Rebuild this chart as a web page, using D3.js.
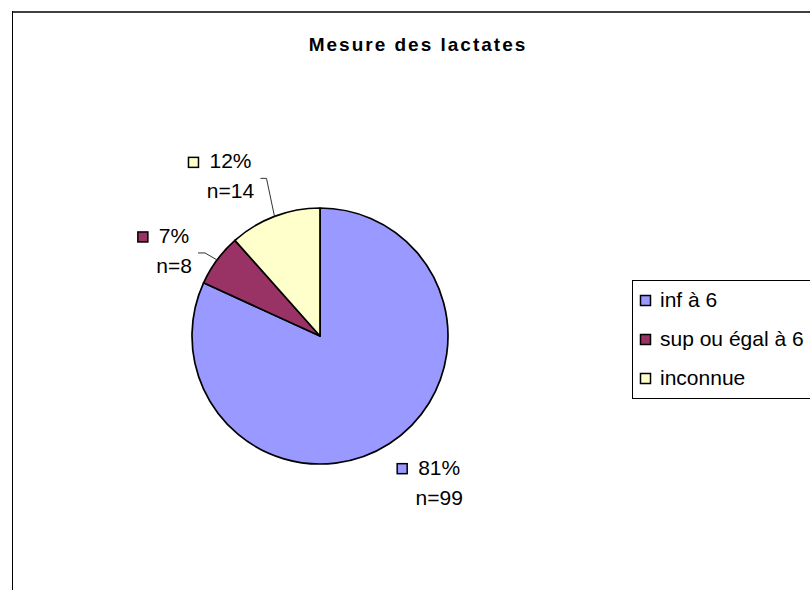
<!DOCTYPE html>
<html>
<head>
<meta charset="utf-8">
<script src="https://cdn.jsdelivr.net/npm/d3@7"></script>
<style>
  html, body { margin: 0; padding: 0; background: #fff; }
  svg { display: block; font-family: "Liberation Sans", Arial, sans-serif; }
</style>
</head>
<body>
<svg id="chart" width="810" height="590"></svg>
<script>
// Lactate measurement breakdown
const categories = ["inf à 6", "sup ou égal à 6", "inconnue"];
const counts = [99, 8, 14];
const percentLabels = ["81%", "7%", "12%"];
const colors = ["#9999FF", "#993366", "#FFFFCC"];
const title = "Mesure des lactates";

const svg = d3.select("#chart");
const W = 810, H = 590;

// chart frame (runs off the right and bottom edges)
svg.append("line").attr("x1", 12).attr("x2", W).attr("y1", 12).attr("y2", 12)
  .attr("stroke", "#404040").attr("stroke-width", 2);
svg.append("line").attr("x1", 12.5).attr("x2", 12.5).attr("y1", 11).attr("y2", H)
  .attr("stroke", "#000").attr("stroke-width", 1);

// title
svg.append("text")
  .attr("x", 418).attr("y", 51)
  .attr("text-anchor", "middle")
  .attr("font-size", 19).attr("font-weight", "bold")
  .attr("letter-spacing", 2)
  .attr("fill", "#000")
  .text(title);

// pie
const cx = 320, cy = 336, R = 128;
const pie = d3.pie().sort(null).value(d => d.count).startAngle(0).endAngle(2 * Math.PI);
const data = categories.map((c, i) => ({ cat: c, count: counts[i], pct: percentLabels[i], color: colors[i] }));
const arcs = pie(data);
const arc = d3.arc().innerRadius(0).outerRadius(R);

const g = svg.append("g").attr("transform", `translate(${cx},${cy})`);
g.selectAll("path.slice").data(arcs).join("path")
  .attr("class", "slice")
  .attr("d", arc)
  .attr("fill", d => d.data.color)
  .attr("stroke", "#000").attr("stroke-width", 1.7)
  .attr("stroke-linejoin", "round");

// label placement relative to each slice's outer edge at its mid-angle
// dx: horizontal offset of the text centre, dy: offset of the first baseline,
// stub*: short horizontal start of the connector line
const labelLayout = [
  { dx: 50, dy: 31, leader: false },
  { dx: -43, dy: -17, leader: true, stubY: -7, stubX0: -19, stubX1: -12 },
  { dx: -44, dy: -48, leader: true, stubY: -38, stubX0: -14, stubX1: -8 }
];
const lineGap = 30;

arcs.forEach((a, i) => {
  const mid = (a.startAngle + a.endAngle) / 2;
  const ex = Math.sin(mid) * R, ey = -Math.cos(mid) * R;
  const L = labelLayout[i];
  const tx = ex + L.dx, ty = ey + L.dy;

  if (L.leader) {
    g.append("path")
      .attr("d", `M${ex + L.stubX0},${ey + L.stubY}H${ex + L.stubX1}L${ex},${ey}`)
      .attr("fill", "none").attr("stroke", "#333").attr("stroke-width", 1);
  }

  const pctText = g.append("text")
    .attr("x", tx).attr("y", ty)
    .attr("text-anchor", "middle")
    .attr("font-size", 21).attr("fill", "#000")
    .text(a.data.pct);
  const bw = pctText.node().getComputedTextLength();
  g.append("rect")
    .attr("x", tx - bw / 2 - 21).attr("y", ty - 11)
    .attr("width", 10).attr("height", 10)
    .attr("fill", a.data.color).attr("stroke", "#000").attr("stroke-width", 1.5);

  g.append("text")
    .attr("x", tx).attr("y", ty + lineGap)
    .attr("text-anchor", "middle")
    .attr("font-size", 21).attr("fill", "#000")
    .text("n=" + a.data.count);
});

// legend
const lg = svg.append("g").attr("transform", "translate(632,280)");
lg.append("rect").attr("x", 0.5).attr("y", 0.5).attr("width", 220).attr("height", 118)
  .attr("fill", "#fff").attr("stroke", "#000").attr("stroke-width", 1);
const rowY = d3.scalePoint().domain(categories).range([27, 105]);
const items = lg.selectAll("g.item").data(data).join("g").attr("class", "item")
  .attr("transform", d => `translate(0,${rowY(d.cat)})`);
items.append("rect")
  .attr("x", 8.5).attr("y", -11.5).attr("width", 10).attr("height", 10)
  .attr("fill", d => d.color).attr("stroke", "#000").attr("stroke-width", 1.5);
items.append("text")
  .attr("x", 28).attr("y", 0)
  .attr("font-size", 21).attr("fill", "#000")
  .attr("xml:space", "preserve")
  .text(d => d.cat);
</script>
</body>
</html>
